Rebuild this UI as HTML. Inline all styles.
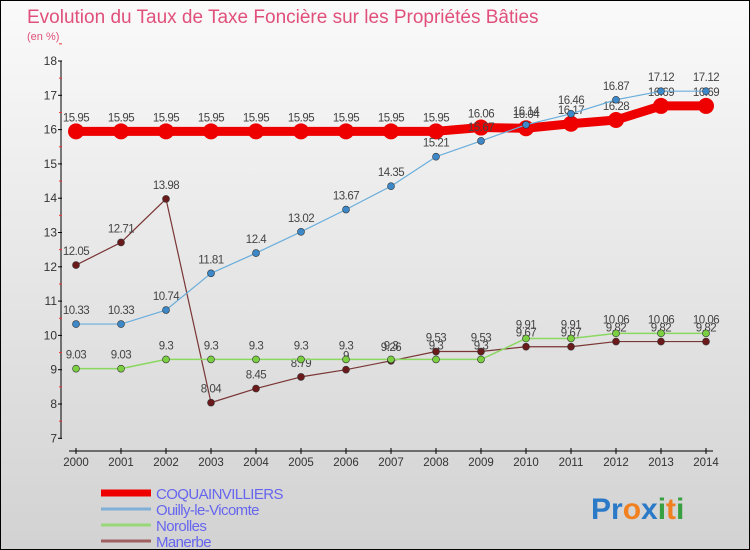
<!DOCTYPE html>
<html><head><meta charset="utf-8"><style>
body{margin:0}
#c{width:750px;height:550px;position:relative;background:linear-gradient(#fafafa,#d2d2d2);box-sizing:border-box;border:1px solid #000;font-family:"Liberation Sans",sans-serif;overflow:hidden}
svg text{font-family:"Liberation Sans",sans-serif}
</style></head><body>
<div id="c">
<svg id="s" width="750" height="550">
<text x="26" y="22" font-size="19" fill="#e0507a">Evolution du Taux de Taxe Foncière sur les Propriétés Bâties</text>
<text x="26" y="39" font-size="11" fill="#e0507a">(en %)</text>
<g id="g"></g>
<text x="590" y="518" font-size="30" font-weight="bold"><tspan fill="#2a7ac8">Pr</tspan><tspan fill="#f08020">o</tspan><tspan fill="#2a7ac8">x</tspan><tspan fill="#38a040">i</tspan><tspan fill="#f08020">t</tspan><tspan fill="#38a040">i</tspan></text>
</svg>
</div>
<script>
const years=[2000,2001,2002,2003,2004,2005,2006,2007,2008,2009,2010,2011,2012,2013,2014];
const yTicks=[7,8,9,10,11,12,13,14,15,16,17,18];
const coq=[15.95,15.95,15.95,15.95,15.95,15.95,15.95,15.95,15.95,16.06,16.04,16.17,16.28,16.69,16.69];
const ouilly=[10.33,10.33,10.74,11.81,12.4,13.02,13.67,14.35,15.21,15.67,16.14,16.46,16.87,17.12,17.12];
const norolles=[9.03,9.03,9.3,9.3,9.3,9.3,9.3,9.3,9.3,9.3,9.91,9.91,10.06,10.06,10.06];
const manerbe=[12.05,12.71,13.98,8.04,8.45,8.79,9,9.26,9.53,9.53,9.67,9.67,9.82,9.82,9.82];
const NS='http://www.w3.org/2000/svg';
const g=document.getElementById('g');
const X=i=>75+i*45;
const Y=v=>60+(18-v)*34.3;
function mk(t,a){const e=document.createElementNS(NS,t);for(const k in a)e.setAttribute(k,a[k]);g.appendChild(e);return e;}
let e=mk('line',{x1:60,y1:60,x2:60,y2:438,stroke:'#000'});


yTicks.forEach(v=>{
 let t=mk('line',{x1:57,x2:61,y1:Y(v),y2:Y(v),stroke:'#000'});
 
 
 let h=mk('line',{x1:58,x2:61,y1:Y(v+0.5),y2:Y(v+0.5),stroke:'#e33'});
 
 
 let l=mk('text',{x:56,y:Y(v)+4,'font-size':12,'text-anchor':'end',fill:'#333'});l.textContent=v;
 
 
});
e=mk('line',{x1:68,y1:450,x2:712,y2:450,stroke:'#000'});


years.forEach((y,i)=>{
 let t=mk('line',{x1:X(i),x2:X(i),y1:447,y2:453,stroke:'#000'});
 
 
 let l=mk('text',{x:X(i),y:465,'font-size':11.5,'text-anchor':'middle',fill:'#333'});l.textContent=y;
 
 
});
function series(d,col,w,r,name,dot){
 let p=mk('polyline',{points:d.map((v,i)=>X(i)+','+Y(v)).join(' '),fill:'none',stroke:col,'stroke-width':w,'stroke-linejoin':'round'});
 
 
 d.forEach((v,i)=>{
  let c=mk('circle',{cx:X(i),cy:Y(v),r:r,fill:dot,stroke:'#333','stroke-width':r>5?0:0.6});
  
  
  let l=mk('text',{x:X(i),y:Y(v)-10,'font-size':11.5,'text-anchor':'middle',fill:'#444','letter-spacing':'-0.5'});l.textContent=v;
  
  
 });
}
series(manerbe,'#7a3535',1.2,3.5,'manerbe','#6a1a1a');
series(norolles,'#8ad860',1.5,3.5,'norolles','#7ad040');
series(coq,'#ee0000',9,8,'coquainvilliers','#ee0000');
series(ouilly,'#6aaedc',1.2,3.5,'ouilly','#3c88c8');
const leg=[['COQUAINVILLIERS','#ee0000',7],['Ouilly-le-Vicomte','#80b0d8',3],['Norolles','#98d878',3],['Manerbe','#a06060',3]];
leg.forEach((L,i)=>{
 const y=492+i*16;
 let s=mk('line',{x1:100,x2:150,y1:y,y2:y,stroke:L[1],'stroke-width':L[2]});
 
 
 let t=mk('text',{x:155,y:y+6,'font-size':15,fill:'#6666ee','letter-spacing':'-0.6'});t.textContent=L[0];
 
 
});
</script>
</body></html>
